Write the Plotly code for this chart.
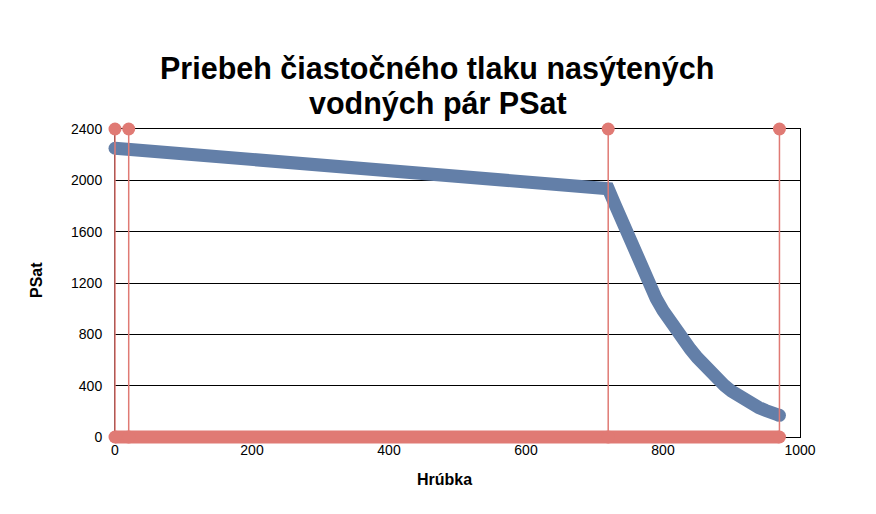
import plotly.graph_objects as go

# ---------------- Data ----------------
hrubka_x = [0, 720, 730, 740, 750, 760, 770, 780, 790, 800, 810, 820, 830, 840, 850,
            860, 870, 880, 890, 900, 910, 920, 930, 940, 950, 960, 970]
psat_y = [2250, 1935, 1810, 1682, 1552, 1422, 1297, 1182, 1079, 986, 901, 823, 751, 684, 619,
          558, 501, 448, 400, 357, 319, 285, 255, 229, 206, 186, 169]
boundaries = [0, 20, 720, 970]
y_top = 2400
x_ticks = [0, 200, 400, 600, 800, 1000]
y_ticks = [0, 400, 800, 1200, 1600, 2000, 2400]
title_lines = ["Priebeh čiastočného tlaku nasýtených", "vodných pár PSat"]
x_title = "Hrúbka"
y_title = "PSat"

# ---------------- Style / layout ----------------
BLUE = "rgb(99,127,168)"
RED = "rgb(224,122,116)"
FONT = "Liberation Sans, Arial, sans-serif"

FIG_W, FIG_H = 860, 498          # page body has an 8px margin
PLOT_L, PLOT_T, PLOT_W, PLOT_H = 107, 121, 685, 308
PAD = 20                          # unclipped overlay area around the plot
X_MIN, X_MAX = 0, 1000
Y_MIN, Y_MAX = 0, 2400

outer_w = PLOT_W + 2 * PAD
outer_h = PLOT_H + 2 * PAD
ml = PLOT_L - PAD
mt = PLOT_T - PAD
mr = FIG_W - (PLOT_L + PLOT_W + PAD)
mb = FIG_H - (PLOT_T + PLOT_H + PAD)

dx = PAD * (X_MAX - X_MIN) / PLOT_W
dy = PAD * (Y_MAX - Y_MIN) / PLOT_H

def px(fx):
    return (fx - ml) / outer_w

def py(fy):
    return (mt + outer_h - fy) / outer_h

fig = go.Figure()

# empty trace on main axes so the frame/grid is drawn
fig.add_trace(go.Scatter(x=[None], y=[None], xaxis="x", yaxis="y", showlegend=False, hoverinfo="skip"))

common = dict(xaxis="x2", yaxis="y2", showlegend=False, hoverinfo="skip", cliponaxis=False)

fig.add_trace(go.Scatter(x=hrubka_x, y=psat_y, mode="lines",
                         line=dict(color=BLUE, width=13), **common))
fig.add_trace(go.Scatter(x=[hrubka_x[0], hrubka_x[-1]], y=[psat_y[0], psat_y[-1]], mode="markers",
                         marker=dict(color=BLUE, size=13), **common))

for b in boundaries:
    fig.add_trace(go.Scatter(x=[b, b], y=[0, y_top], mode="lines",
                             line=dict(color=RED, width=1.5), **common))
fig.add_trace(go.Scatter(x=boundaries, y=[y_top] * len(boundaries), mode="markers",
                         marker=dict(color=RED, size=13), **common))
fig.add_trace(go.Scatter(x=boundaries, y=[0] * len(boundaries), mode="lines+markers",
                         line=dict(color=RED, width=13), marker=dict(color=RED, size=13), **common))

fig.update_layout(
    width=FIG_W, height=FIG_H, autosize=False,
    margin=dict(l=ml, r=mr, t=mt, b=mb, pad=0),
    paper_bgcolor="white", plot_bgcolor="rgba(0,0,0,0)",
    font=dict(family=FONT, color="black", size=14),
    xaxis=dict(domain=[PAD / outer_w, 1 - PAD / outer_w], range=[X_MIN, X_MAX], tickvals=x_ticks,
               showgrid=False, zeroline=False, showline=True, linecolor="black", linewidth=1,
               mirror=True, ticks="", tickfont=dict(size=14, color="black"), anchor="y",
               fixedrange=True),
    yaxis=dict(domain=[PAD / outer_h, 1 - PAD / outer_h], range=[Y_MIN, Y_MAX], tickvals=y_ticks,
               showgrid=True, gridcolor="black", gridwidth=1, zeroline=False, showline=True,
               linecolor="black", linewidth=1, mirror=True, ticks="", ticklabelstandoff=9,
               tickfont=dict(size=14, color="black"), anchor="x", fixedrange=True),
    xaxis2=dict(domain=[0, 1], range=[X_MIN - dx, X_MAX + dx], visible=False, anchor="y2",
                fixedrange=True),
    yaxis2=dict(domain=[0, 1], range=[Y_MIN - dy, Y_MAX + dy], visible=False, anchor="x2",
                fixedrange=True),
    annotations=[
        dict(text="<b>%s</b>" % title_lines[0], xref="paper", yref="paper",
             x=px(429), y=py(60.5), xanchor="center", yanchor="middle", showarrow=False,
             font=dict(family=FONT, size=30.5, color="black")),
        dict(text="<b>%s</b>" % title_lines[1], xref="paper", yref="paper",
             x=px(429.5), y=py(95.5), xanchor="center", yanchor="middle", showarrow=False,
             font=dict(family=FONT, size=30.5, color="black")),
        dict(text="<b>%s</b>" % x_title, xref="paper", yref="paper",
             x=px(436.5), y=py(471), xanchor="center", yanchor="middle", showarrow=False,
             font=dict(family=FONT, size=16, color="black")),
        dict(text="<b>%s</b>" % y_title, xref="paper", yref="paper",
             x=px(28), y=py(272), xanchor="center", yanchor="middle", showarrow=False,
             textangle=-90, font=dict(family=FONT, size=16, color="black")),
    ],
)

fig.write_html("out.html")
